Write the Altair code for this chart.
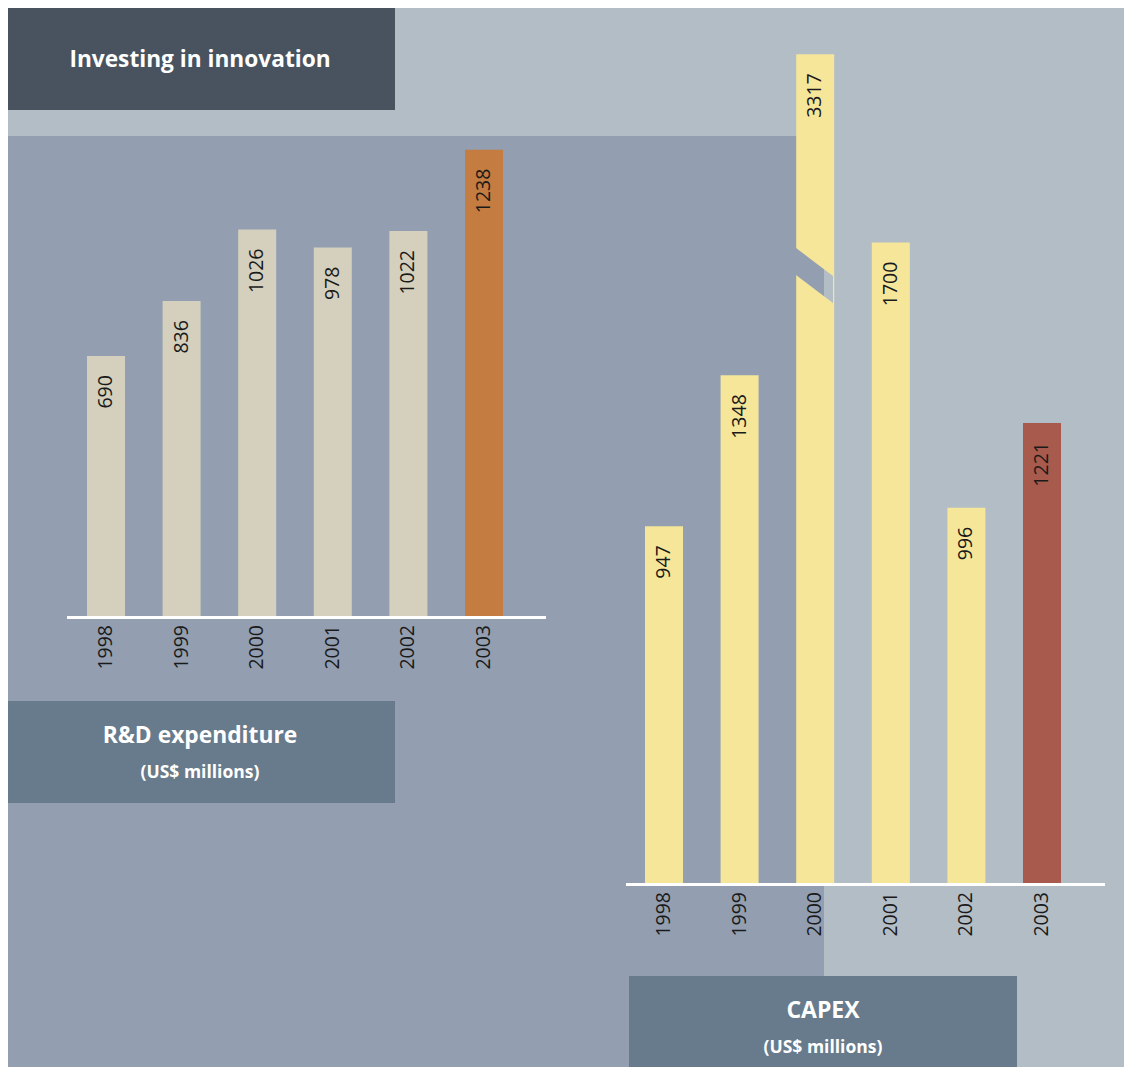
import altair as alt
import pandas as pd

# ---- data ----
years = ["1998", "1999", "2000", "2001", "2002", "2003"]
rd_values = [690, 836, 1026, 978, 1022, 1238]
capex_values = [947, 1348, 3317, 1700, 996, 1221]

title_text = "Investing in innovation"
rd_title = "R&D expenditure"
capex_title = "CAPEX"
unit_text = "(US$ millions)"

# ---- styles ----
LIGHT_BG = "#B3BDC6"
DARK_PANEL = "#939FB1"
TITLE_BOX = "#48535F"
LABEL_BOX = "#677B8C"
RD_BAR = "#D4D0BD"
RD_HI = "#C47C40"
CAPEX_BAR = "#F5E69A"
CAPEX_HI = "#A85B4C"
TXT = "#1A1A1A"
NUM_FONT = "Open Sans"
HEAD_FONT = "Open Sans"

W, H = 1116, 1059
PX_PER_UNIT = 0.3767

rd_df = pd.DataFrame({"year": years, "value": rd_values})
capex_df = pd.DataFrame({"year": years, "value": capex_values})
one = pd.DataFrame({"k": [0]})

base_one = alt.Chart(one)

# ---- decorative panels ----
dark_panel = base_one.mark_rect(color=DARK_PANEL).encode(
    x=alt.value(0), x2=alt.value(816), y=alt.value(128), y2=alt.value(H))
title_box = base_one.mark_rect(color=TITLE_BOX).encode(
    x=alt.value(0), x2=alt.value(387), y=alt.value(0), y2=alt.value(102))
title_lbl = base_one.mark_text(color="white", font=HEAD_FONT, fontWeight="bold",
                               fontSize=22.7, align="center", baseline="middle").encode(
    x=alt.value(192), y=alt.value(52), text=alt.value(title_text))
rd_box = base_one.mark_rect(color=LABEL_BOX).encode(
    x=alt.value(0), x2=alt.value(387), y=alt.value(693), y2=alt.value(795))
rd_lbl1 = base_one.mark_text(color="white", font=HEAD_FONT, fontWeight="bold",
                             fontSize=22.8, align="center", baseline="middle").encode(
    x=alt.value(192), y=alt.value(728), text=alt.value(rd_title))
rd_lbl2 = base_one.mark_text(color="white", font=HEAD_FONT, fontWeight="bold",
                             fontSize=17.5, align="center", baseline="middle").encode(
    x=alt.value(192), y=alt.value(765), text=alt.value(unit_text))
capex_box = base_one.mark_rect(color=LABEL_BOX).encode(
    x=alt.value(621), x2=alt.value(1009), y=alt.value(968), y2=alt.value(H))
capex_lbl1 = base_one.mark_text(color="white", font=HEAD_FONT, fontWeight="bold",
                                fontSize=23, align="center", baseline="middle").encode(
    x=alt.value(815), y=alt.value(1003), text=alt.value(capex_title))
capex_lbl2 = base_one.mark_text(color="white", font=HEAD_FONT, fontWeight="bold",
                                fontSize=17.5, align="center", baseline="middle").encode(
    x=alt.value(815), y=alt.value(1040), text=alt.value(unit_text))

rd_axis_line = base_one.mark_rule(color="white", strokeWidth=3).encode(
    x=alt.value(59), x2=alt.value(538), y=alt.value(609.5))
capex_axis_line = base_one.mark_rule(color="white", strokeWidth=3).encode(
    x=alt.value(618), x2=alt.value(1097), y=alt.value(876.5))


def bar_block(df, x_range, base_y, max_dom, bar_col, hi_col, label_y):
    xs = alt.Scale(domain=years, range=x_range, paddingInner=0.4974, paddingOuter=0)
    ys = alt.Scale(domain=[0, max_dom], range=[base_y, base_y - max_dom * PX_PER_UNIT],
                   nice=False, zero=True, clamp=True)
    b = alt.Chart(df)
    bars = b.mark_bar().encode(
        x=alt.X("year:N", scale=xs, axis=None),
        y=alt.Y("value:Q", scale=ys, axis=None),
        color=alt.condition(alt.datum.year == "2003", alt.value(hi_col), alt.value(bar_col)),
    )
    vals = b.mark_text(angle=270, align="right", baseline="middle", font=NUM_FONT,
                       fontSize=19.5, color=TXT, yOffset=19).encode(
        x=alt.X("year:N", scale=xs, axis=None),
        y=alt.Y("value:Q", scale=ys, axis=None),
        text=alt.Text("value:Q", format="d"),
    )
    yrs = b.mark_text(angle=270, align="right", baseline="middle", font=NUM_FONT,
                      fontSize=19.5, color=TXT).encode(
        x=alt.X("year:N", scale=xs, axis=None),
        y=alt.value(label_y),
        text="year:N",
    )
    return alt.layer(bars, vals, yrs)


rd_block = bar_block(rd_df, [79, 495], 608, 2000, RD_BAR, RD_HI, 617)
capex_block = bar_block(capex_df, [637, 1053], 875, 2200, CAPEX_BAR, CAPEX_HI, 884)

# ---- axis break on the clipped 2000 CAPEX bar ----
brk_dark = pd.DataFrame({"px": [788, 816], "top": [240, 261.2], "bot": [267, 288.2]})
brk_light = pd.DataFrame({"px": [816, 825], "top": [261.2, 268], "bot": [288.2, 295]})
ident_x = alt.Scale(domain=[0, W], range=[0, W], nice=False, zero=False)
ident_y = alt.Scale(domain=[0, H], range=[0, H], nice=False, zero=False)


def brk(df, col):
    return alt.Chart(df).mark_area(color=col, opacity=1).encode(
        x=alt.X("px:Q", scale=ident_x, axis=None),
        y=alt.Y("top:Q", scale=ident_y, axis=None),
        y2="bot:Q",
    )


brk_block = alt.layer(brk(brk_dark, DARK_PANEL), brk(brk_light, LIGHT_BG))

chart = alt.layer(
    dark_panel, title_box, title_lbl, rd_box, rd_lbl1, rd_lbl2,
    capex_box, capex_lbl1, capex_lbl2,
    rd_block, rd_axis_line, capex_block, capex_axis_line, brk_block,
).resolve_scale(x="independent", y="independent").properties(
    width=W, height=H, padding=0,
    autosize=alt.AutoSizeParams(type="none"),
).configure(background=LIGHT_BG).configure_view(strokeWidth=0)

chart.save("out.html", embed_options={"renderer": "svg", "actions": False})
